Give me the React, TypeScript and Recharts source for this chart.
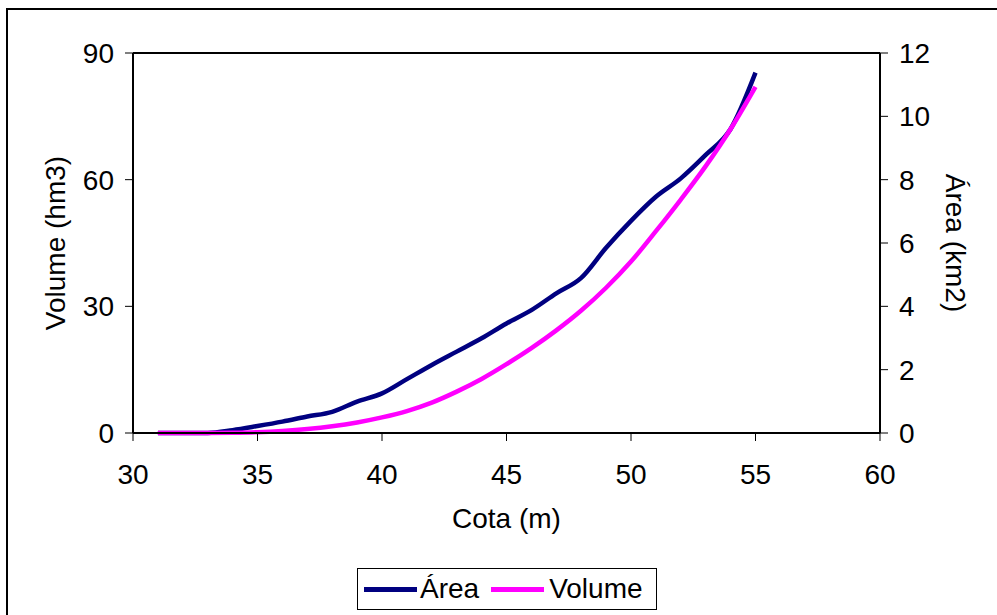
import React from "react";
import { LineChart, Line, XAxis, YAxis, Legend, ReferenceLine } from "recharts";

const cota = [31, 32, 33, 34, 35, 36, 37, 38, 39, 40, 41, 42, 43, 44, 45, 46, 47, 48, 49, 50, 51, 52, 53, 54, 55];
const area = [0, 0, 0, 0.09, 0.22, 0.36, 0.52, 0.67, 0.99, 1.25, 1.7, 2.15, 2.57, 2.99, 3.46, 3.88, 4.41, 4.9, 5.85, 6.7, 7.46, 8.04, 8.78, 9.6, 11.38];
const volume = [0, 0, 0, 0.05, 0.2, 0.5, 0.95, 1.6, 2.5, 3.7, 5.2, 7.2, 9.8, 12.8, 16.3, 20.1, 24.3, 29.0, 34.4, 40.6, 47.8, 55.3, 63.2, 72.0, 82.0];
const xTicks = [30, 35, 40, 45, 50, 55, 60];
const volTicks = [0, 30, 60, 90];
const areaTicks = [0, 2, 4, 6, 8, 10, 12];

const data = cota.map((c, i) => ({ cota: c, area: area[i], volume: volume[i] }));

const FONT = '"Liberation Sans", Arial, sans-serif';
const NAVY = "#000080";
const MAGENTA = "#FF00FF";

const LegendBox = () => (
  <div
    style={{
      width: 298,
      height: 40,
      border: "1px solid #000",
      background: "#fff",
      display: "flex",
      alignItems: "center",
      fontFamily: FONT,
      fontSize: 28,
      color: "#000",
      boxSizing: "content-box",
    }}
  >
    <div style={{ width: 53, height: 5, background: NAVY, marginLeft: 6 }} />
    <span style={{ marginLeft: 3 }}>Área</span>
    <div style={{ width: 53, height: 5, background: MAGENTA, marginLeft: 12 }} />
    <span style={{ marginLeft: 5 }}>Volume</span>
  </div>
);

export default function App() {
  return (
    <div
      style={{
        position: "absolute",
        left: 0,
        top: 0,
        width: 997,
        height: 615,
        overflow: "hidden",
        background: "#fff",
      }}
    >
      <div
        style={{
          position: "absolute",
          left: 6,
          top: 8,
          width: 1100,
          height: 700,
          border: "2px solid #000",
        }}
      />
      <div style={{ position: "absolute", left: 0, top: 0 }}>
        <LineChart
          width={997}
          height={615}
          data={data}
          margin={{ top: 53, right: 17, left: 53, bottom: 87 }}
          style={{ fontFamily: FONT }}
        >
          <XAxis
            dataKey="cota"
            type="number"
            domain={[30, 60]}
            ticks={xTicks}
            allowDataOverflow
            height={95}
            tickSize={8}
            tickMargin={23}
            axisLine={{ stroke: "#000", strokeWidth: 2 }}
            tickLine={{ stroke: "#000", strokeWidth: 1 }}
            tick={{ fill: "#000", fontSize: 28, fontFamily: FONT }}
            label={{ value: "Cota (m)", position: "insideBottom", offset: 0, fill: "#000", fontSize: 28, fontFamily: FONT }}
          />
          <YAxis
            yAxisId="left"
            orientation="left"
            domain={[0, 90]}
            ticks={volTicks}
            width={80}
            tickSize={8}
            tickMargin={11}
            axisLine={{ stroke: "#000", strokeWidth: 2 }}
            tickLine={{ stroke: "#000", strokeWidth: 1 }}
            tick={{ fill: "#000", fontSize: 28, fontFamily: FONT }}
            label={{
              value: "Volume (hm3)",
              angle: -90,
              position: "insideLeft",
              offset: 2,
              fill: "#000",
              fontSize: 28,
              fontFamily: FONT,
              style: { textAnchor: "middle" },
            }}
          />
          <YAxis
            yAxisId="right"
            orientation="right"
            domain={[0, 12]}
            ticks={areaTicks}
            width={100}
            tickSize={8}
            tickMargin={11}
            axisLine={{ stroke: "#000", strokeWidth: 2 }}
            tickLine={{ stroke: "#000", strokeWidth: 1 }}
            tick={{ fill: "#000", fontSize: 28, fontFamily: FONT }}
            label={{
              value: "Área (km2)",
              angle: 90,
              position: "insideRight",
              offset: 24,
              fill: "#000",
              fontSize: 28,
              fontFamily: FONT,
              style: { textAnchor: "middle" },
            }}
          />
          <ReferenceLine yAxisId="left" y={90} stroke="#000" strokeWidth={2} />
          <Line
            yAxisId="right"
            dataKey="area"
            name="Área"
            type="monotone"
            stroke={NAVY}
            strokeWidth={4.5}
            dot={false}
            isAnimationActive={false}
          />
          <Line
            yAxisId="left"
            dataKey="volume"
            name="Volume"
            type="monotone"
            stroke={MAGENTA}
            strokeWidth={4.5}
            dot={false}
            isAnimationActive={false}
          />
          <Legend
            layout="horizontal"
            verticalAlign="middle"
            align="center"
            content={() => <LegendBox />}
            wrapperStyle={{ left: 357, top: 568, width: 300, height: 42 }}
          />
        </LineChart>
      </div>
    </div>
  );
}
